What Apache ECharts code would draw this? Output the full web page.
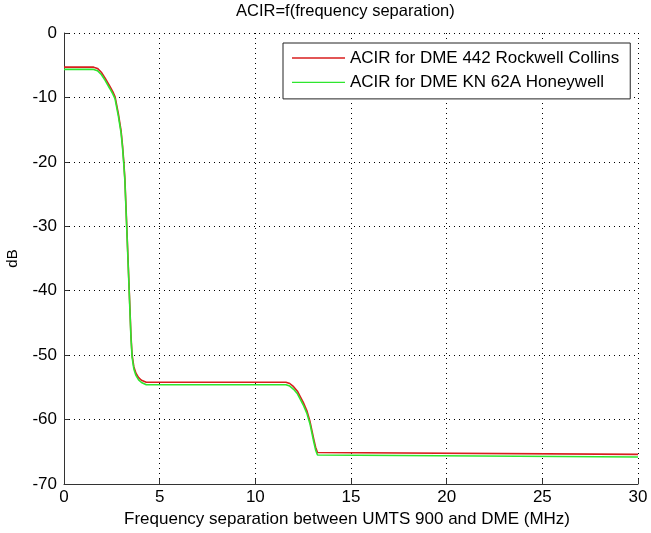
<!DOCTYPE html>
<html>
<head>
<meta charset="utf-8">
<script src="https://cdn.jsdelivr.net/npm/echarts@6/dist/echarts.min.js"></script>
<style>
  html, body { margin: 0; padding: 0; background: #fff; }
  #chart { width: 651px; height: 533px; }
</style>
</head>
<body>
<div id="chart"></div>
<script>
// Frequency separation (MHz) sample points along each response
const freqRockwell = [0, 1.55, 1.75, 1.95, 2.15, 2.4, 2.55, 2.67, 2.84, 2.98, 3.06, 3.12, 3.18, 3.28, 3.41, 3.5, 3.56, 3.65, 3.76, 3.9, 4.05, 4.3, 11.6, 11.8, 12.0, 12.2, 12.34, 12.5, 12.69, 12.85, 12.95, 13.05, 13.15, 13.25, 13.35, 30];
const acirRockwell = [-5.3, -5.3, -5.5, -6.1, -7.0, -8.3, -9.1, -9.9, -12.5, -15.1, -17.5, -19.8, -22.5, -30, -40, -47, -50, -51.8, -52.8, -53.5, -53.9, -54.2, -54.2, -54.4, -54.9, -55.6, -56.4, -57.3, -58.6, -60.2, -61.6, -63, -64.3, -65.1, -65.4, -65.4];

const freqHoneywell = [0, 1.55, 1.75, 1.95, 2.15, 2.4, 2.55, 2.67, 2.84, 2.98, 3.06, 3.12, 3.18, 3.28, 3.41, 3.5, 3.56, 3.65, 3.76, 3.9, 4.05, 4.3, 11.6, 11.8, 12.0, 12.2, 12.34, 12.5, 12.69, 12.85, 12.95, 13.05, 13.15, 13.25, 13.35, 30];
const acirHoneywell = [-5.65, -5.65, -5.85, -6.45, -7.35, -8.65, -9.45, -10.25, -12.85, -15.45, -17.85, -20.15, -22.85, -30.35, -40.35, -47.35, -50.35, -52.15, -53.15, -53.85, -54.25, -54.6, -54.6, -54.8, -55.3, -56.0, -56.8, -57.7, -59.0, -60.6, -62.0, -63.4, -64.7, -65.5, -65.8, -65.8];

const seriesNames = ['ACIR for DME 442 Rockwell Collins', 'ACIR for DME KN 62A Honeywell'];
const seriesColors = ['#d81e1e', '#2ee62e'];
const chartTitle = 'ACIR=f(frequency separation)';
const xAxisName = 'Frequency separation between UMTS 900 and DME (MHz)';
const yAxisName = 'dB';

const pairs = (xs, ys) => xs.map((x, i) => [x, ys[i]]);

const font = 'Liberation Sans, Arial, sans-serif';
const gridDots = { show: true, lineStyle: { color: '#000', type: [1, 4], width: 1 } };

// plot box in pixels
const plotLeft = 64, plotRight = 638, plotTop = 33, plotBottom = 484;

const chart = echarts.init(document.getElementById('chart'), null, { renderer: 'canvas' });
chart.setOption({
  backgroundColor: '#fff',
  animation: false,
  graphic: [{
    type: 'text',
    left: (plotLeft + plotRight) / 2 - 115,
    top: 3,
    style: {
      text: chartTitle,
      font: '16.5px ' + font,
      fill: '#000'
    }
  }],
  grid: {
    left: plotLeft,
    right: 651 - plotRight,
    top: plotTop,
    bottom: 533 - plotBottom,
    outerBoundsMode: 'none'
  },
  legend: {
    orient: 'vertical',
    left: 283,
    top: 43,
    padding: [6.5, 11, 8, 9],
    itemGap: 7.4,
    itemWidth: 53,
    itemHeight: 1.3,
    icon: 'rect',
    backgroundColor: '#fff',
    borderColor: '#222',
    borderWidth: 1,
    textStyle: { fontFamily: font, fontSize: 17, lineHeight: 17, color: '#000' },
    data: seriesNames.map((n, i) => ({ name: n, itemStyle: { color: seriesColors[i] } }))
  },
  xAxis: {
    type: 'value',
    min: 0, max: 30, interval: 5,
    name: xAxisName,
    nameLocation: 'middle',
    nameGap: 27,
    nameTextStyle: { fontFamily: font, fontSize: 17, color: '#000', padding: [0, 8, 0, 0] },
    axisLine: { show: true, onZero: false, lineStyle: { color: '#333', width: 1 } },
    axisTick: { show: true, inside: true, length: 5, lineStyle: { color: '#333' } },
    axisLabel: { fontFamily: font, fontSize: 17, color: '#000', margin: 5 },
    splitLine: gridDots
  },
  yAxis: {
    type: 'value',
    min: -70, max: 0, interval: 10,
    name: yAxisName,
    nameLocation: 'middle',
    nameGap: 44,
    nameRotate: 90,
    nameTextStyle: { fontFamily: font, fontSize: 15, color: '#000' },
    axisLine: { show: true, onZero: false, lineStyle: { color: '#333', width: 1 } },
    axisTick: { show: true, inside: true, length: 5, lineStyle: { color: '#333' } },
    axisLabel: { fontFamily: font, fontSize: 17, color: '#000', margin: 7 },
    splitLine: gridDots
  },
  series: [
    {
      name: seriesNames[0],
      type: 'line',
      data: pairs(freqRockwell, acirRockwell),
      showSymbol: false,
      color: seriesColors[0],
      lineStyle: { color: seriesColors[0], width: 1.6 }
    },
    {
      name: seriesNames[1],
      type: 'line',
      data: pairs(freqHoneywell, acirHoneywell),
      showSymbol: false,
      color: seriesColors[1],
      lineStyle: { color: seriesColors[1], width: 1.6 }
    }
  ]
});
</script>
</body>
</html>
